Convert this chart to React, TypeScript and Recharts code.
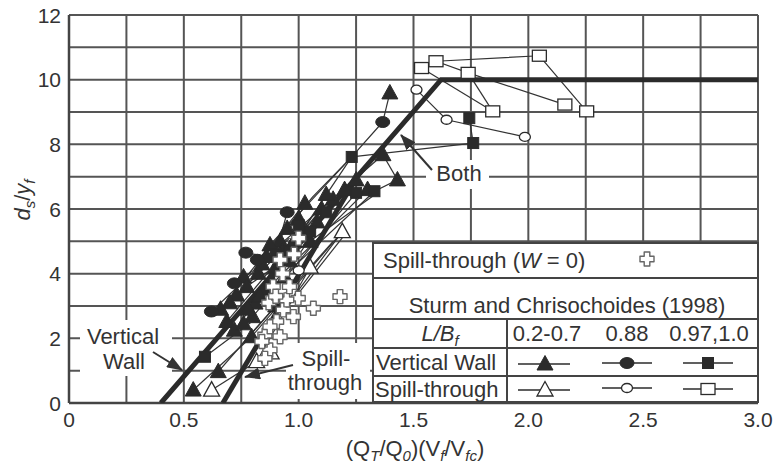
import React from 'react';
import { ScatterChart, Scatter, XAxis, YAxis, CartesianGrid } from 'recharts';

type P = [number, number];

const FONT = 'Liberation Sans, Arial, Helvetica, sans-serif';
const INK = '#2b2b2b';
const GRID = '#555';

// ---- axes ----
const X_TICKS = [0, 0.25, 0.5, 0.75, 1, 1.25, 1.5, 1.75, 2, 2.25, 2.5, 2.75, 3];
const X_TICK_LABELS: Record<string, string> = { '0': '0', '0.5': '0.5', '1': '1.0', '1.5': '1.5', '2': '2.0', '2.5': '2.5', '3': '3.0' };
const Y_TICKS = [0, 1, 2, 3, 4, 5, 6, 7, 8, 9, 10, 11, 12];
const Y_TICK_LABELS: Record<string, string> = { '0': '0', '2': '2', '4': '4', '6': '6', '8': '8', '10': '10', '12': '12' };

// ---- design curves ----
const designVerticalWall: P[] = [[0.40, 0], [1.62, 10], [3.0, 10]];
const designSpillThrough: P[] = [[0.67, 0], [1.254, 7.0]];

// ---- Sturm and Chrisochoides (1998) data ----
const vwTriangles: P[] = [
  [1.397, 9.59], [1.367, 7.68], [1.43, 6.9], [1.2, 6.6], [1.1, 6.0], [1.027, 6.18], [1.0, 5.7],
  [0.95, 5.4], [0.92, 5.0], [0.875, 4.89], [0.86, 4.53], [0.93, 4.7], [0.96, 4.4], [0.84, 4.3],
  [0.824, 4.01], [0.76, 3.9], [0.774, 3.6], [0.73, 3.34], [0.81, 3.09], [0.70, 3.1], [0.66, 2.9],
  [0.80, 2.67], [0.687, 2.52], [0.795, 2.05], [0.65, 0.97], [0.541, 0.40], [1.05, 5.0], [0.9, 3.0], [0.85, 3.5],
  [1.15, 6.3], [1.08, 5.6], [0.98, 5.0], [0.9, 4.2], [0.88, 3.8], [1.12, 6.45], [1.3, 6.6], [1.25, 6.9],
  [0.83, 3.3], [0.78, 2.9], [0.94, 3.9], [0.72, 2.25], [0.76, 2.45], [1.02, 5.3], [0.97, 4.85],
];
const vwCircles: P[] = [[1.366, 8.69], [0.77, 4.65], [0.82, 4.43], [0.62, 2.83], [0.72, 3.7], [0.95, 5.9]];
const vwSquares: P[] = [
  [1.743, 8.81], [1.76, 8.04], [1.231, 7.61], [1.25, 6.5], [1.33, 6.55], [0.592, 1.43], [1.05, 5.3], [0.96, 4.7],
  [1.0, 5.5], [0.9, 4.6], [1.12, 5.9],
];
const stTriangles: P[] = [[0.621, 0.40], [0.817, 1.28], [1.19, 5.3], [1.05, 4.2], [0.88, 1.55]];
const stCircles: P[] = [[1.513, 9.69], [1.644, 8.76], [1.985, 8.23], [1.0, 4.1]];
const stSquares: P[] = [
  [1.535, 10.36], [1.598, 10.57], [1.738, 10.21], [1.845, 9.02], [2.048, 10.74], [2.159, 9.23], [2.254, 9.02],
];
const stNoWall: P[] = [
  [1.18, 3.29], [1.064, 2.93], [0.998, 3.24], [0.977, 2.67], [0.933, 2.88], [0.948, 3.19], [0.889, 3.6],
  [0.919, 4.43], [0.853, 2.1], [0.904, 2.52], [0.875, 2.36], [0.919, 2.05], [0.875, 1.64], [0.853, 1.38],
  [0.84, 1.9], [0.96, 3.6], [0.93, 4.0], [0.98, 4.6], [1.0, 5.1], [0.87, 3.1], [0.90, 3.3],
];
const connectors: P[][] = [
  [[1.397, 9.59], [1.366, 8.69]],
  [[1.366, 8.69], [1.231, 7.61], [1.06, 6.37], [0.95, 5.4]],
  [[1.231, 7.61], [1.76, 8.04]],
  [[1.743, 8.81], [1.76, 8.04]],
  [[1.367, 7.68], [1.43, 6.9]],
  [[1.43, 6.9], [1.33, 6.55]],
  [[1.513, 9.69], [1.644, 8.76], [1.985, 8.23]],
  [[1.535, 10.36], [1.845, 9.02]],
  [[1.598, 10.57], [2.048, 10.74], [2.254, 9.02]],
  [[1.598, 10.57], [1.738, 10.21], [2.159, 9.23]],
  [[1.738, 10.21], [1.845, 9.02]],
  [[0.541, 0.40], [0.795, 2.05]],
  [[0.621, 0.40], [0.817, 1.28]],
  [[0.592, 1.43], [0.79, 2.48]],
  [[0.62, 2.83], [0.96, 5.1]],
  [[0.66, 2.9], [1.027, 6.18]],
  [[0.687, 2.52], [1.1, 6.0]],
  [[0.73, 3.34], [1.2, 6.6]],
  [[0.77, 4.65], [0.86, 4.53]],
  [[0.8, 2.67], [1.25, 6.5]],
  [[0.81, 3.09], [1.33, 6.55]],
  [[0.86, 4.53], [1.367, 7.68]],
  [[0.875, 4.89], [1.231, 7.61]],
  [[0.795, 2.05], [1.19, 5.3]],
  [[0.853, 2.1], [1.19, 5.3]],
  [[0.817, 1.28], [1.05, 4.2]],
  [[0.65, 0.97], [0.9, 3.0]],
  [[0.774, 3.6], [1.34, 6.49]],
  [[0.75, 1.8], [1.15, 5.0]],
  [[0.9, 2.5], [1.2, 5.2]],
  [[0.82, 4.43], [1.0, 5.7]],
  [[0.72, 3.7], [0.93, 4.7]],
  [[0.72, 2.25], [1.15, 6.3]],
  [[0.76, 2.45], [1.12, 6.45]],
  [[0.78, 2.9], [1.08, 5.6]],
  [[0.83, 3.3], [1.3, 6.6]],
  [[0.88, 3.8], [1.25, 6.9]],
  [[0.94, 3.9], [1.12, 5.9]],
  [[0.9, 4.2], [1.02, 5.3]],
  [[0.97, 4.85], [1.231, 7.61]],
  [[0.9, 4.6], [0.95, 5.9]],
  [[0.85, 3.5], [1.0, 5.5]],
];

const toXY = (p: P) => ({ x: p[0], y: p[1] });

// ---- marker shapes ----
const Empty = () => <g />;
const triShape = (filled: boolean) => (props: any) => {
  const { cx, cy } = props;
  return (
    <polygon
      points={`${cx},${cy - 8.5} ${cx - 8},${cy + 6} ${cx + 8},${cy + 6}`}
      fill={filled ? INK : '#fff'}
      stroke={INK}
      strokeWidth={filled ? 1 : 1.3}
    />
  );
};
const circShape = (filled: boolean) => (props: any) => {
  const { cx, cy } = props;
  return filled ? (
    <ellipse cx={cx} cy={cy} rx={7} ry={5.5} fill={INK} stroke={INK} />
  ) : (
    <ellipse cx={cx} cy={cy} rx={5.5} ry={4.5} fill="#fff" stroke={INK} strokeWidth={1.3} />
  );
};
const sqShape = (filled: boolean) => (props: any) => {
  const { cx, cy } = props;
  return filled ? (
    <rect x={cx - 5.5} y={cy - 5.5} width={11} height={11} fill={INK} stroke={INK} />
  ) : (
    <rect x={cx - 7} y={cy - 5.5} width={14} height={11} fill="#fff" stroke={INK} strokeWidth={1.3} />
  );
};
const plusPath = (cx: number, cy: number, a: number, b: number) =>
  `M${cx - b},${cy - a} L${cx + b},${cy - a} L${cx + b},${cy - b} L${cx + a},${cy - b} L${cx + a},${cy + b} L${cx + b},${cy + b} L${cx + b},${cy + a} L${cx - b},${cy + a} L${cx - b},${cy + b} L${cx - a},${cy + b} L${cx - a},${cy - b} L${cx - b},${cy - b} Z`;
const PlusShape = (props: any) => {
  const { cx, cy } = props;
  return <path d={plusPath(cx, cy, 7, 2.8)} fill="#fff" stroke="#666" strokeWidth={1.4} strokeLinejoin="round" />;
};

const XTick = (props: any) => {
  const { x, y, payload } = props;
  const label = X_TICK_LABELS[String(payload.value)];
  if (!label) return <g />;
  return (
    <text x={x} y={y + 16} textAnchor="middle" fontSize={21} fill="#333" fontFamily={FONT}>
      {label}
    </text>
  );
};
const YTick = (props: any) => {
  const { x, y, payload } = props;
  const label = Y_TICK_LABELS[String(payload.value)];
  if (!label) return <g />;
  return (
    <text x={x} y={y + 7.5} textAnchor="end" fontSize={21} fill="#333" fontFamily={FONT}>
      {label}
    </text>
  );
};

const T = (p: any) => <text fontFamily={FONT} fontSize={22} fill="#333" {...p} />;

const Overlay = () => (
  <svg width={777} height={470} style={{ position: 'absolute', left: 0, top: 0, pointerEvents: 'none' }}>
    <defs>
      <marker id="ah" markerWidth={16} markerHeight={12} refX={15} refY={6} orient="auto" markerUnits="userSpaceOnUse">
        <polygon points="0,0 16,6 0,12" fill="#333" />
      </marker>
    </defs>
    {/* annotation: Vertical Wall */}
    <rect x={80} y={320} width={92} height={56} fill="#fff" />
    <T x={123} y={344} textAnchor="middle">Vertical</T>
    <T x={124} y={369} textAnchor="middle">Wall</T>
    <line x1={153} y1={352} x2={182} y2={370} stroke="#333" strokeWidth={2} markerEnd="url(#ah)" />
    {/* annotation: Spill-through */}
    <rect x={286} y={343} width={84} height={56} fill="#fff" />
    <T x={326} y={366} textAnchor="middle">Spill-</T>
    <T x={325} y={390} textAnchor="middle">through</T>
    <line x1={293} y1={365} x2={245} y2={377} stroke="#333" strokeWidth={2} markerEnd="url(#ah)" />
    {/* annotation: Both */}
    <rect x={426} y={160} width={63} height={29} fill="#fff" />
    <T x={459} y={181} textAnchor="middle">Both</T>
    <line x1={432} y1={170} x2={401} y2={135} stroke="#333" strokeWidth={2} markerEnd="url(#ah)" />

    {/* legend table */}
    <rect x={373} y={243} width={385} height={159} fill="#fff" stroke="#444" strokeWidth={2} />
    <line x1={373} y1={278} x2={758} y2={278} stroke="#444" strokeWidth={2} />
    <line x1={373} y1={319} x2={758} y2={319} stroke="#444" strokeWidth={2} />
    <line x1={373} y1={348} x2={758} y2={348} stroke="#444" strokeWidth={2} />
    <line x1={373} y1={376} x2={758} y2={376} stroke="#444" strokeWidth={2} />
    <line x1={507} y1={319} x2={507} y2={402} stroke="#444" strokeWidth={2} />
    <T x={383} y={268}>
      Spill-through (<tspan fontStyle="italic">W</tspan> = 0)
    </T>
    <path d={plusPath(647, 259, 7, 2.8)} fill="#fff" stroke="#666" strokeWidth={1.4} strokeLinejoin="round" />
    <T x={567} y={313} textAnchor="middle">Sturm and Chrisochoides (1998)</T>
    <T x={440} y={341} textAnchor="middle" fontStyle="italic">
      L/B<tspan fontSize={15} dy={5}>f</tspan>
    </T>
    <T x={547} y={341} textAnchor="middle">0.2-0.7</T>
    <T x={627} y={341} textAnchor="middle">0.88</T>
    <T x={709} y={341} textAnchor="middle">0.97,1.0</T>
    <T x={376} y={370}>Vertical Wall</T>
    <T x={375} y={397}>Spill-through</T>
    {/* legend markers */}
    <line x1={518} y1={364} x2={570} y2={364} stroke={INK} strokeWidth={1.5} />
    <line x1={602} y1={363} x2={652} y2={363} stroke={INK} strokeWidth={1.5} />
    <line x1={683} y1={363} x2={733} y2={363} stroke={INK} strokeWidth={1.5} />
    <line x1={518} y1={390} x2={570} y2={390} stroke={INK} strokeWidth={1.5} />
    <line x1={602} y1={388} x2={652} y2={388} stroke={INK} strokeWidth={1.5} />
    <line x1={683} y1={389} x2={733} y2={389} stroke={INK} strokeWidth={1.5} />
    {triShape(true)({ cx: 545, cy: 364 })}
    {circShape(true)({ cx: 627, cy: 363 })}
    {sqShape(true)({ cx: 708, cy: 363 })}
    {triShape(false)({ cx: 545, cy: 390 })}
    {circShape(false)({ cx: 627, cy: 388 })}
    {sqShape(false)({ cx: 708, cy: 389 })}

    {/* axis titles */}
    <g transform="translate(30,200) rotate(-90)">
      <T x={0} y={0} textAnchor="middle">
        <tspan fontStyle="italic">d</tspan>
        <tspan fontSize={15} dy={5} fontStyle="italic">s</tspan>
        <tspan dy={-5}>/</tspan>
        <tspan fontStyle="italic">y</tspan>
        <tspan fontSize={15} dy={5} fontStyle="italic">f</tspan>
      </T>
    </g>
    <T x={415} y={456} textAnchor="middle">
      (Q<tspan fontSize={15} dy={5} fontStyle="italic">T</tspan>
      <tspan dy={-5}>/Q</tspan>
      <tspan fontSize={15} dy={5} fontStyle="italic">0</tspan>
      <tspan dy={-5}>)(V</tspan>
      <tspan fontSize={15} dy={5} fontStyle="italic">f</tspan>
      <tspan dy={-5}>/V</tspan>
      <tspan fontSize={15} dy={5} fontStyle="italic">fc</tspan>
      <tspan dy={-5}>)</tspan>
    </T>
  </svg>
);

export default function App() {
  const series: { data: P[]; shape: any }[] = [
    { data: stTriangles, shape: triShape(false) },
    { data: stCircles, shape: circShape(false) },
    { data: stSquares, shape: sqShape(false) },
    { data: vwTriangles, shape: triShape(true) },
    { data: vwCircles, shape: circShape(true) },
    { data: vwSquares, shape: sqShape(true) },
    { data: stNoWall, shape: PlusShape },
  ];
  return (
    <div style={{ position: 'absolute', left: 0, top: 0, width: 777, height: 470, background: '#fff', overflow: 'hidden' }}>
      <ScatterChart width={777} height={470} margin={{ top: 15, right: 19, left: 0, bottom: 0 }}>
        <CartesianGrid stroke={GRID} strokeWidth={2} />
        <XAxis
          type="number"
          dataKey="x"
          domain={[0, 3]}
          ticks={X_TICKS}
          interval={0}
          height={67}
          tickLine={false}
          axisLine={{ stroke: '#444', strokeWidth: 2.5 }}
          tick={<XTick />}
          allowDataOverflow
        />
        <YAxis
          type="number"
          dataKey="y"
          domain={[0, 12]}
          ticks={Y_TICKS}
          interval={0}
          width={69}
          tickLine={false}
          axisLine={{ stroke: '#444', strokeWidth: 2.5 }}
          tick={<YTick />}
          allowDataOverflow
        />
        {connectors.map((seg, i) => (
          <Scatter
            key={'c' + i}
            data={seg.map(toXY)}
            line={{ stroke: '#333', strokeWidth: 1.2 }}
            shape={Empty}
            isAnimationActive={false}
          />
        ))}
        <Scatter data={designVerticalWall.map(toXY)} line={{ stroke: INK, strokeWidth: 5 }} shape={Empty} isAnimationActive={false} />
        <Scatter data={designSpillThrough.map(toXY)} line={{ stroke: INK, strokeWidth: 5 }} shape={Empty} isAnimationActive={false} />
        {series.map((s, i) => (
          <Scatter key={'s' + i} data={s.data.map(toXY)} shape={s.shape} isAnimationActive={false} />
        ))}
      </ScatterChart>
      <Overlay />
    </div>
  );
}
